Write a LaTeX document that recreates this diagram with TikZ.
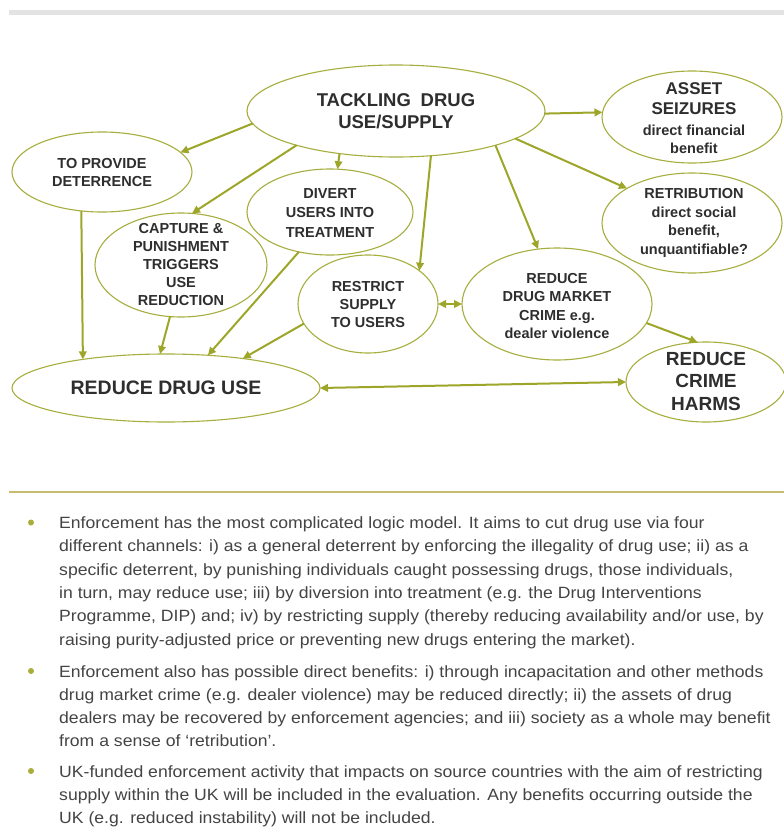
\documentclass[tikz,border=0pt]{standalone}
\usepackage{fontspec}
\setmainfont{Liberation Sans}
\newfontfamily\parafont[FakeStretch=1.08]{Liberation Sans}
\usetikzlibrary{shapes.geometric,arrows.meta}
\definecolor{arrcol}{HTML}{9DA628}
\definecolor{ellcol}{HTML}{A6AE3E}
\definecolor{txtcol}{HTML}{2E2E2E}
\definecolor{paracol}{HTML}{444444}
\definecolor{rulecol}{HTML}{C9BA72}
\definecolor{barcol}{HTML}{E3E3E3}
\definecolor{bulcol}{HTML}{A9AE3A}
\begin{document}
\begin{tikzpicture}[x=1pt,y=-1pt,
  ell/.style={ellipse, draw=ellcol, line width=1.1pt, inner sep=0pt, outer sep=0pt},
  lbl/.style={align=center, text=txtcol, inner sep=0pt, font=\bfseries\fontsize{14.5}{18.5}\selectfont},
  arr/.style={draw=arrcol, line width=2pt, -{Triangle[length=8pt,width=7.5pt]}},
  darr/.style={draw=arrcol, line width=2pt, {Triangle[length=8pt,width=7.5pt]}-{Triangle[length=8pt,width=7.5pt]}},
  para/.style={anchor=base west, align=left, text=paracol, inner sep=0pt, font=\parafont\fontsize{16.3}{23.3}\selectfont},
  bullet/.style={circle, fill=bulcol, inner sep=0pt, minimum size=6pt}
]
\useasboundingbox (0,0) rectangle (784,827);
\fill[white] (0,0) rectangle (784,827);
% top bar and rule
\fill[barcol] (9,10) rectangle (784,15);
\draw[rulecol, line width=2pt] (9,492) -- (784,492);

% ellipses
\node[ell, minimum width=298pt, minimum height=92pt] (tack) at (396,111) {};
\node[ell, minimum width=180pt, minimum height=80pt] (det) at (102,172) {};
\node[ell, minimum width=166pt, minimum height=86pt] (div) at (330,212) {};
\node[ell, minimum width=172pt, minimum height=104pt] (cap) at (181,265) {};
\node[ell, minimum width=140pt, minimum height=98pt] (res) at (368,304) {};
\node[ell, minimum width=190pt, minimum height=112pt] (mkt) at (557,304) {};
\node[ell, minimum width=308pt, minimum height=68pt] (rdu) at (166,388) {};
\node[ell, minimum width=160pt, minimum height=80pt] (harm) at (706,382) {};
\node[ell, minimum width=180pt, minimum height=92pt] (asset) at (692,117) {};
\node[ell, minimum width=180pt, minimum height=100pt] (retr) at (692,223) {};

% labels
\node[lbl, font=\bfseries\fontsize{18.5}{22}\selectfont] (ttack) at (396,111) {TACKLING\hspace{0.25em} DRUG\\USE/SUPPLY};
\node[lbl] (tdet) at (102,172.5) {TO PROVIDE\\DETERRENCE};
\node[lbl, font=\bfseries\fontsize{14.5}{19.5}\selectfont] (tdiv) at (330,213) {DIVERT\\USERS INTO\\TREATMENT};
\node[lbl, font=\bfseries\fontsize{14.5}{18}\selectfont] (tcap) at (181,265) {CAPTURE \&\\PUNISHMENT\\TRIGGERS\\USE\\REDUCTION};
\node[lbl, font=\bfseries\fontsize{14.5}{18}\selectfont] (tres) at (368,305) {RESTRICT\\SUPPLY\\TO USERS};
\node[lbl, font=\bfseries\fontsize{14.5}{18.3}\selectfont] (tmkt) at (557,306) {REDUCE\\DRUG MARKET\\CRIME e.g.\\dealer violence};
\node[lbl, font=\bfseries\fontsize{19.5}{22}\selectfont] (trdu) at (166,388) {REDUCE DRUG USE};
\node[lbl, font=\bfseries\fontsize{19}{22.5}\selectfont] (tharm) at (706,381) {REDUCE\\CRIME\\HARMS};
\node[lbl, font=\bfseries\fontsize{17}{20}\selectfont] (tasset) at (694,99) {ASSET\\SEIZURES};
\node[lbl, font=\bfseries\fontsize{14.5}{17.5}\selectfont] (tasset2) at (694,139.5) {direct financial\\benefit};
\node[lbl, font=\bfseries\fontsize{14.5}{18.7}\selectfont] (tretr) at (694,223) {RETRIBUTION\\direct social\\benefit,\\unquantifiable?};

% arrows
\draw[arr] (tack.185.9) -- (det.14.7);
\draw[arr] (tack.199.2) -- (cap.78);
\draw[arr] (tack.217.2) -- (div.80.8);
\draw[arr] (tack.308) -- (res.33.4);
\draw[arr] (tack.341.9) -- (mkt.109.4);
\draw[arr] (tack.-1) -- (asset.177.5);
\draw[arr] (tack.347.5) -- (retr.152.8);
\draw[arr] (det.242.9) -- (rdu.161.3);
\draw[arr] (cap.258) -- (rdu.100);
\draw[arr] (div.232) -- (rdu.38);
\draw[arr] (res.197.9) -- (rdu.21.3);
\draw[darr] (res.0) -- (mkt.180);
\draw[arr] (mkt.348) -- (harm.102);
\draw[darr] (rdu.0) -- (harm.180);

% bullets and paragraphs (base anchor = baseline of last line)
\node[bullet] (b1) at (31,522.5) {};
\node[bullet] (b2) at (31,671) {};
\node[bullet] (b3) at (31,771) {};
\node[para] (p1) at (59,645) {Enforcement has the most complicated logic model. It aims to cut drug use via four\\
different channels: i) as a general deterrent by enforcing the illegality of drug use; ii) as a\\
specific deterrent, by punishing individuals caught possessing drugs, those individuals,\\
in turn, may reduce use; iii) by diversion into treatment (e.g. the Drug Interventions\\
Programme, DIP) and; iv) by restricting supply (thereby reducing availability and/or use, by\\
raising purity-adjusted price or preventing new drugs entering the market).};
\node[para] (p2) at (59,746.9) {Enforcement also has possible direct benefits: i) through incapacitation and other methods\\
drug market crime (e.g. dealer violence) may be reduced directly; ii) the assets of drug\\
dealers may be recovered by enforcement agencies; and iii) society as a whole may benefit\\
from a sense of ‘retribution’.};
\node[para] (p3) at (59,823.6) {UK-funded enforcement activity that impacts on source countries with the aim of restricting\\
supply within the UK will be included in the evaluation. Any benefits occurring outside the\\
UK (e.g. reduced instability) will not be included.};
\end{tikzpicture}
\end{document}
